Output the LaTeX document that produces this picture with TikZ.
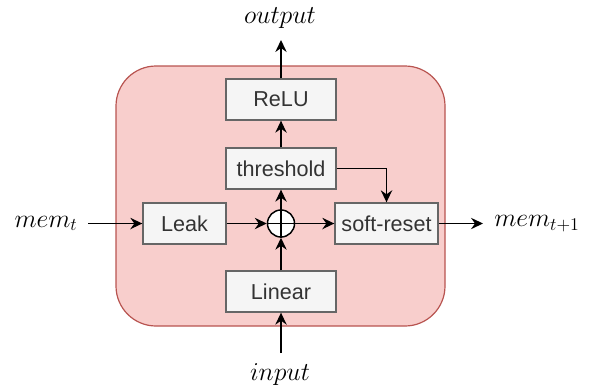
\documentclass[tikz,border=0pt]{standalone}
\usepackage{fontspec}
\newfontfamily\boxfont{Liberation Sans}
\usetikzlibrary{arrows.meta}
\definecolor{cellfill}{HTML}{F8CECC}
\definecolor{celldraw}{HTML}{B85450}
\definecolor{boxfill}{HTML}{F5F5F5}
\definecolor{boxdraw}{HTML}{666666}
\definecolor{boxtext}{HTML}{333333}
\tikzset{
    opbox/.style={draw=boxdraw, fill=boxfill, line width=1pt, minimum height=30.75pt,
        inner sep=0pt, text=boxtext, font=\boxfont\fontsize{16.2}{19}\selectfont},
    sumnode/.style={circle, draw=black, fill=white, line width=1.1pt, minimum size=20.25pt, inner sep=0pt},
    signal/.style={font=\fontsize{17.28}{21}\selectfont, scale=1.12, inner sep=0pt},
    flow/.style={-{Stealth[length=9pt,width=8.5pt,inset=3pt]}, line width=1.1pt}
}
\begin{document}
\begin{tikzpicture}[x=0.75pt, y=-0.75pt]
        \useasboundingbox (0,0) rectangle (591,390);
        %! --- neuron cell ---
        \draw[fill=cellfill, draw=celldraw, line width=0.9pt, rounded corners=30pt] (116,66) rectangle (445,326);
        % Operation boxes
        \node[opbox, minimum width=82.5pt] (relu) at (281,99.5) {ReLU};
        \node[opbox, minimum width=82.5pt] (thr) at (281,168.5) {threshold};
        \node[opbox, minimum width=62.25pt] (leak) at (184.5,223.5) {Leak};
        \node[opbox, minimum width=77.25pt] (soft) at (386.5,223.5) {soft-reset};
        \node[opbox, minimum width=82.5pt] (lin) at (281,291.5) {Linear};
        % Sum node
        \node[sumnode] (sum) at (281,223.5) {};
        \draw[line width=1.1pt] (sum.north) -- (sum.south);
        \draw[line width=1.1pt] (sum.west) -- (sum.east);
        % Signals outside the cell
        \node[signal] (outtxt) at (280,18) {$output$};
        \node[signal] (intxt) at (280,375) {$input$};
        \node[signal] (memin) at (46,223.5) {$mem_t$};
        \node[signal, anchor=west] (memout) at (494,223.5) {$mem_{t+1}$};
        \coordinate (outend) at (281,40);
        \coordinate (inbeg) at (281,353);
        \coordinate (membeg) at (88,223.5);
        \coordinate (memend) at (483,223.5);
        % Connections
        \draw[flow] (relu.north) -- (outend);
        \draw[flow] (thr.north) -- (relu.south);
        \draw[flow] (sum.north) -- (thr.south);
        \draw[flow] (lin.north) -- (sum.south);
        \draw[flow] (inbeg) -- (lin.south);
        \draw[flow] (membeg) -- (leak.west);
        \draw[flow] (leak.east) -- (sum.west);
        \draw[flow] (sum.east) -- (soft.west);
        \draw[flow] (thr.east) -| (soft.north);
        \draw[flow] (soft.east) -- (memend);
    \end{tikzpicture}
\end{document}
